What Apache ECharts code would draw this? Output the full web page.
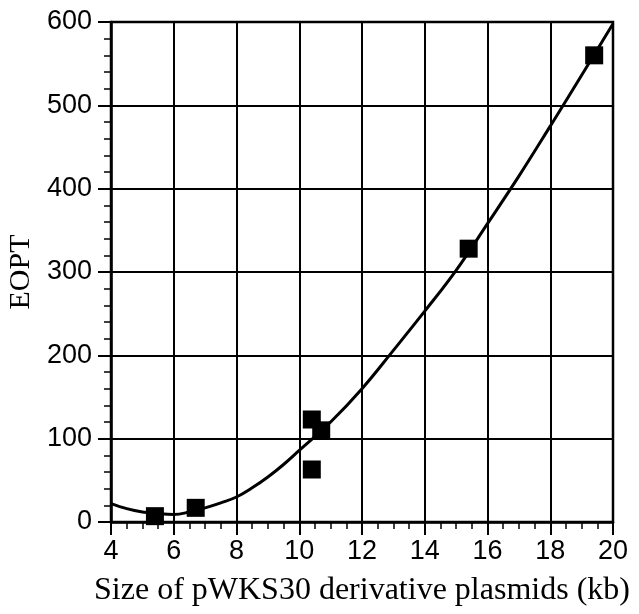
<!DOCTYPE html>
<html>
<head>
<meta charset="utf-8">
<script src="https://cdn.jsdelivr.net/npm/echarts@6/dist/echarts.min.js"></script>
<style>
  html, body { margin: 0; padding: 0; background: #fff; }
  #main { width: 639px; height: 614px; }
</style>
</head>
<body>
<div id="main"></div>
<script>
// measured points: plasmid size (kb) vs EOPT
var sizeKb = [5.4, 6.7, 10.4, 10.4, 10.7, 15.4, 19.4];
var eopt = [7, 17, 123, 63, 110, 328, 560];

// fitted curve
var curveX = [4, 4.5, 5, 5.5, 6, 6.5, 7, 7.5, 8, 8.5, 9, 9.5, 10, 11, 12, 13, 14, 15, 16, 17, 18, 19, 20];
var curveY = [22, 16, 12, 10, 9, 12, 17, 23, 30, 41, 54, 69, 86, 120, 160, 206, 253, 302, 358, 415, 475, 536, 598];

var xTicks = [4, 6, 8, 10, 12, 14, 16, 18, 20];
var yTicks = [0, 100, 200, 300, 400, 500, 600];

var points = [];
for (var i = 0; i < sizeKb.length; i++) {
  points.push([sizeKb[i], eopt[i]]);
}
var curve = [];
for (var i = 0; i < curveX.length; i++) {
  curve.push([curveX[i], curveY[i]]);
}

var myChart = echarts.init(document.getElementById('main'), null, { renderer: 'canvas' });

var labelStyle = {
  color: '#000',
  fontFamily: 'Liberation Sans, Arial, sans-serif',
  fontSize: 27
};

option = {
  backgroundColor: '#fff',
  animation: false,
  grid: {
    left: 111,
    right: 26,
    top: 22,
    bottom: 92,
    outerBoundsMode: 'none',
    show: true,
    borderColor: '#000',
    borderWidth: 2.5
  },
  xAxis: {
    type: 'value',
    min: xTicks[0],
    max: xTicks[xTicks.length - 1],
    interval: 2,
    name: 'Size of pWKS30 derivative plasmids (kb)',
    nameLocation: 'middle',
    nameGap: 53,
    nameTextStyle: {
      color: '#000',
      fontFamily: 'Liberation Serif, Times New Roman, serif',
      fontSize: 32
    },
    axisLine: { lineStyle: { color: '#000', width: 2.5 } },
    axisTick: { length: 13, lineStyle: { color: '#000', width: 2 } },
    minorTick: { show: true, splitNumber: 4, length: 7, lineStyle: { color: '#000', width: 1.5 } },
    splitLine: { show: true, lineStyle: { color: '#000', width: 2 } },
    axisLabel: Object.assign({ margin: 16 }, labelStyle)
  },
  yAxis: {
    type: 'value',
    min: yTicks[0],
    max: yTicks[yTicks.length - 1],
    interval: 100,
    name: 'EOPT',
    nameLocation: 'middle',
    nameRotate: 90,
    nameGap: 74,
    nameTextStyle: {
      color: '#000',
      fontFamily: 'Liberation Serif, Times New Roman, serif',
      fontSize: 30
    },
    axisLine: { show: true, lineStyle: { color: '#000', width: 2.5 } },
    axisTick: { show: true, length: 13, lineStyle: { color: '#000', width: 2 } },
    minorTick: { show: true, splitNumber: 5, length: 7, lineStyle: { color: '#000', width: 1.5 } },
    splitLine: { show: true, lineStyle: { color: '#000', width: 2 } },
    axisLabel: Object.assign({ margin: 19 }, labelStyle)
  },
  series: [
    {
      name: 'fit',
      type: 'line',
      data: curve,
      smooth: 0.4,
      showSymbol: false,
      lineStyle: { color: '#000', width: 3 },
      z: 2
    },
    {
      name: 'EOPT',
      type: 'scatter',
      data: points,
      symbol: 'rect',
      symbolSize: 18,
      itemStyle: { color: '#000', opacity: 1 },
      z: 3
    }
  ]
};

myChart.setOption(option);
</script>
</body>
</html>
